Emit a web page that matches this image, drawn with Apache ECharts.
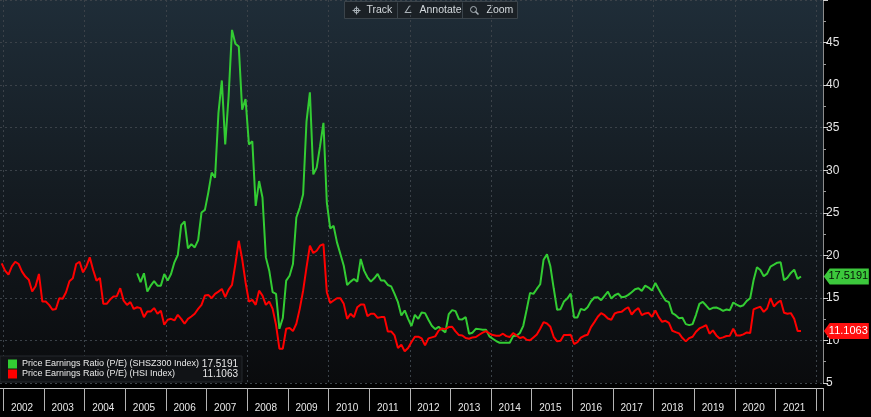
<!DOCTYPE html>
<html>
<head>
<meta charset="utf-8">
<script src="https://cdn.jsdelivr.net/npm/echarts@6/dist/echarts.min.js"></script>
<style>
html,body{margin:0;padding:0;background:#000;}
#c{width:871px;height:417px;}
</style>
</head>
<body>
<div id="c"></div>
<script>
// ---- data (monthly, Dec 2001 .. ) ----
const firstMonth = [2001, 12];
const monthCount = 243; // Dec 2001 .. Feb 2022
const yTicks = [5, 10, 15, 20, 25, 30, 35, 40, 45];

const hsiName = 'Price Earnings Ratio (P/E) (HSI Index)';
const shszName = 'Price Earnings Ratio (P/E) (SHSZ300 Index)';

// HSI P/E, starting Dec 2001
const hsiPE = [
  19.06, 18.2, 17.73, 18.7, 19.25, 18.98, 18.08, 17.5, 17.14, 15.74, 16.37, 17.81,
  14.57, 14.57, 14.18, 13.6, 13.7, 14.96, 14.9, 15.67, 16.96, 17.3, 18.98, 19.25,
  18.0, 18.7, 19.76, 18.28, 17.03, 17.34, 14.3, 14.3, 14.8, 15.15, 15.2, 16.14,
  14.68, 14.18, 14.5, 13.7, 13.9, 13.8, 12.74, 13.4, 13.4, 13.8, 13.13, 13.5,
  11.84, 12.43, 12.54, 12.35, 13.01, 12.54, 11.96, 12.54, 12.81, 13.13, 13.71, 14.18,
  15.27, 15.35, 14.96, 15.47, 15.74, 16.05, 15.08, 15.97, 16.52, 18.98, 21.71, 19.57,
  16.84, 14.57, 14.77, 14.18, 15.85, 15.27, 14.18, 14.57, 13.71, 11.84, 9.03, 9.03,
  11.37, 11.45, 11.1, 11.96, 13.71, 15.85, 18.59, 21.13, 20.27, 20.54, 21.13, 21.32,
  15.67, 14.42, 14.69, 14.96, 14.96, 14.3, 12.54, 13.13, 12.74, 13.91, 14.22, 14.22,
  12.85, 13.13, 13.13, 12.66, 12.74, 12.74, 11.06, 11.06, 10.59, 9.11, 9.5, 8.72,
  9.11, 9.81, 10.44, 10.44, 10.24, 9.42, 10.24, 10.36, 10.48, 11.14, 11.41, 11.33,
  11.57, 11.61, 11.06, 10.63, 10.59, 10.28, 10.2, 10.36, 10.4, 10.67, 10.91, 11.1,
  10.83, 10.63, 10.55, 10.55, 10.79, 10.51, 10.4, 10.87, 10.59, 10.28, 10.4, 10.09,
  10.01, 10.36, 10.71, 11.37, 12.15, 11.99, 11.6, 10.4, 9.89, 9.97, 10.63, 10.63,
  10.67, 9.58, 9.81, 10.32, 10.55, 10.67, 11.57, 12.15, 12.78, 13.21, 12.97, 12.58,
  12.43, 13.17, 13.32, 13.36, 13.67, 13.9, 13.05, 13.52, 13.8, 12.97, 13.17, 13.25,
  12.78, 13.52, 12.74, 12.19, 12.31, 12.07, 11.14, 10.98, 10.83, 10.28, 9.89, 10.28,
  10.44, 11.02, 11.41, 11.6, 11.8, 10.79, 11.18, 10.59, 10.24, 10.36, 10.52, 10.56,
  11.37, 10.59, 10.59, 10.71, 10.94, 10.87, 13.64, 13.83, 13.95, 13.36, 13.75, 14.96,
  13.99, 14.42, 14.69, 13.25, 13.13, 13.21, 12.54, 11.1, 11.1063
];

// SHSZ300 P/E, starting Apr 2005
const shszStart = '2005-04';
const shszPE = [
  17.89, 16.84, 17.89, 15.74, 16.44, 16.96, 16.44, 16.44,
  17.81, 17.03, 17.81, 19.18, 20.04, 23.55, 23.98, 20.82, 21.32, 20.93, 21.79, 25.03,
  25.34, 27.37, 29.71, 29.13, 36.74, 40.55, 33.03, 38.68, 46.49, 44.85, 44.54, 37.12,
  38.37, 33.03, 33.41, 25.8, 28.73, 26.79, 19.76, 18.2, 15.67, 15.47, 11.37, 12.63,
  17.03, 17.6, 18.98, 24.44, 25.61, 27.17, 35.75, 39.15, 29.51, 30.3, 32.83, 35.56,
  26.2, 23.16, 23.46, 21.52, 20.15, 18.78, 16.52, 16.91, 17.22, 16.91, 19.57, 18.2,
  17.42, 16.91, 17.3, 17.81, 17.03, 17.03, 16.52, 16.36, 15.47, 14.5, 12.93, 13.52,
  12.54, 11.69, 13.01, 12.54, 13.28, 13.21, 12.43, 11.72, 11.33, 11.6, 11.26, 10.95,
  13.09, 13.56, 13.44, 12.5, 12.47, 12.74, 10.79, 10.91, 11.37, 11.33, 11.26, 11.26,
  10.48, 10.2, 9.93, 9.73, 9.73, 9.73, 9.73, 10.51, 10.55, 10.87, 11.72, 13.6,
  15.59, 15.47, 16.05, 16.6, 19.49, 20.11, 18.71, 16.1, 13.6, 13.67, 14.57, 14.92,
  15.5, 12.7, 12.7, 13.71, 13.56, 13.91, 14.61, 15.04, 15.08, 14.73, 15.24, 15.74,
  14.92, 15.31, 15.51, 15.08, 15.12, 15.35, 15.66, 16.02, 16.13, 15.82, 16.44, 16.21,
  15.86, 16.76, 16.01, 15.31, 14.69, 14.49, 13.21, 12.97, 12.62, 12.66, 11.92, 11.8,
  11.92, 13.01, 14.3, 14.53, 14.1, 13.64, 13.83, 13.87, 13.71, 13.48, 13.64, 13.56,
  14.46, 14.22, 13.99, 14.14, 14.65, 14.96, 17.07, 18.59, 18.28, 17.54, 17.85, 18.67,
  18.9, 19.14, 19.18, 17.07, 17.38, 17.93, 18.32, 17.23, 17.5191
];

const shszLast = '17.5191';
const hsiLast = '11.1063';

// ---- build ----
const months = [];
{
  let y = firstMonth[0], m = firstMonth[1];
  for (let i = 0; i < monthCount; i++) {
    months.push(y + '-' + String(m).padStart(2, '0'));
    m++; if (m > 12) { m = 1; y++; }
  }
}
const shszOffset = months.indexOf(shszStart);
const shszData = shszPE.map((v, i) => [months[shszOffset + i], v]);
const hsiData = hsiPE.map((v, i) => [months[i], v]);
const lastMonth = months[months.length - 1];

const FONT = "'Liberation Sans', Arial, sans-serif";
const GREEN = '#33cc33';
const RED = '#ff0000';

const chart = echarts.init(document.getElementById('c'));
const tag = 'path://M0,8L6,0L46,0L46,16L6,16Z';

chart.setOption({
  backgroundColor: '#000',
  animation: false,
  grid: {
    left: 0, right: 48, top: 0, bottom: 34,
    show: true, borderWidth: 0,
    backgroundColor: new echarts.graphic.LinearGradient(0, 0, 0, 1, [
      { offset: 0, color: '#1f2d38' },
      { offset: 0.5, color: '#141b21' },
      { offset: 1, color: '#0a0b0d' }
    ])
  },
  legend: {
    left: 0, top: 356, orient: 'vertical', selectedMode: false,
    itemGap: 0, itemWidth: 9, itemHeight: 9, icon: 'rect',
    backgroundColor: '#111316', borderColor: '#24292d', borderWidth: 1,
    padding: [3, 4, 3, 8],
    data: [shszName, hsiName],
    formatter: name => '{n|' + name + '}{v|' + (name === shszName ? shszLast : hsiLast) + '}',
    textStyle: {
      color: '#e8e8e8', fontSize: 9, fontFamily: FONT,
      rich: {
        n: { width: 180, fontSize: 9, lineHeight: 11, color: '#e8e8e8', fontFamily: FONT },
        v: { width: 36, align: 'right', fontSize: 10, lineHeight: 11, color: '#e8e8e8', fontFamily: FONT }
      }
    }
  },
  xAxis: {
    type: 'category', data: months, boundaryGap: true, offset: 5,
    axisLine: { show: true, lineStyle: { color: '#c8c8c8', width: 1 } },
    axisTick: {
      show: true, alignWithLabel: false,
      interval: (i, v) => v.endsWith('-01'),
      length: 23, lineStyle: { color: '#b4b4b4', width: 1 }
    },
    axisLabel: {
      show: true,
      interval: (i, v) => v.endsWith('-06'),
      formatter: v => v.slice(0, 4),
      color: '#e8e8e8', fontSize: 10, margin: 15, fontFamily: FONT
    },
    splitLine: {
      show: true,
      interval: (i, v) => v.endsWith('-01') && (+v.slice(0, 4)) % 2 === 0,
      lineStyle: { type: [2, 3], color: '#3b4249' }
    }
  },
  yAxis: {
    type: 'value', position: 'right', min: 5, max: 50, interval: 5,
    axisLine: { show: true, lineStyle: { color: '#8c8c8c' } },
    axisTick: { show: true, length: 5, lineStyle: { color: '#d0d0d0' } },
    minorTick: { show: true, splitNumber: 2, length: 3, lineStyle: { color: '#9a9a9a' } },
    axisLabel: {
      color: '#e6e6e6', fontSize: 12, margin: 3, fontFamily: FONT,
      showMaxLabel: false,
      formatter: v => (yTicks.indexOf(v) >= 0 ? String(v) : '')
    },
    splitLine: { show: true, lineStyle: { type: [2, 3], color: '#3b4249' } }
  },
  graphic: [
    {
      type: 'group', left: 344, top: 0, silent: true,
      children: [
        { type: 'rect', shape: { x: 0, y: -1, width: 173, height: 17 },
          style: { fill: '#1b2126', stroke: '#3b444b', lineWidth: 1 } },
        { type: 'line', shape: { x1: 53, y1: 0, x2: 53, y2: 16 }, style: { stroke: '#3b444b' } },
        { type: 'line', shape: { x1: 118, y1: 0, x2: 118, y2: 16 }, style: { stroke: '#3b444b' } },
        { type: 'line', shape: { x1: 8, y1: 8, x2: 16, y2: 8 }, style: { stroke: '#aab2b8' } },
        { type: 'line', shape: { x1: 12, y1: 4, x2: 12, y2: 12 }, style: { stroke: '#aab2b8' } },
        { type: 'circle', shape: { cx: 12, cy: 8, r: 2.5 }, style: { fill: 'none', stroke: '#aab2b8' } },
        { type: 'text', x: 22, y: 8, style: { text: 'Track', fill: '#d3d8dc', font: '10.5px ' + FONT, verticalAlign: 'middle' } },
        { type: 'text', x: 59, y: 8, style: { text: '∠', fill: '#aab2b8', font: '10px DejaVu Sans', verticalAlign: 'middle' } },
        { type: 'text', x: 75, y: 8, style: { text: 'Annotate', fill: '#d3d8dc', font: '10.5px ' + FONT, verticalAlign: 'middle' } },
        { type: 'circle', shape: { cx: 129, cy: 7, r: 3 }, style: { fill: 'none', stroke: '#aab2b8' } },
        { type: 'line', shape: { x1: 131, y1: 9, x2: 134, y2: 12 }, style: { stroke: '#aab2b8', lineWidth: 1.5 } },
        { type: 'text', x: 142, y: 8, style: { text: 'Zoom', fill: '#d3d8dc', font: '10.5px ' + FONT, verticalAlign: 'middle' } }
      ]
    }
  ],
  series: [
    {
      name: shszName, type: 'line', data: shszData, symbol: 'none', z: 2,
      lineStyle: { color: GREEN, width: 2 }, itemStyle: { color: GREEN },
      markPoint: {
        silent: true, symbol: tag, symbolSize: [45, 16], symbolOffset: [25, 0], symbolKeepAspect: false,
        itemStyle: { color: '#3cc83c' },
        label: { show: true, position: 'inside', offset: [2, 0], color: '#061006', fontSize: 11, fontFamily: FONT, formatter: () => shszLast },
        data: [{ coord: [lastMonth, shszPE[shszPE.length - 1]] }]
      }
    },
    {
      name: hsiName, type: 'line', data: hsiData, symbol: 'none', z: 3,
      lineStyle: { color: RED, width: 2 }, itemStyle: { color: RED },
      markPoint: {
        silent: true, symbol: tag, symbolSize: [45, 16], symbolOffset: [25, 0], symbolKeepAspect: false,
        itemStyle: { color: '#ff1010' },
        label: { show: true, position: 'inside', offset: [2, 0], color: '#ffffff', fontSize: 11, fontFamily: FONT, formatter: () => hsiLast },
        data: [{ coord: [lastMonth, hsiPE[hsiPE.length - 1]] }]
      }
    }
  ]
});
</script>
</body>
</html>
